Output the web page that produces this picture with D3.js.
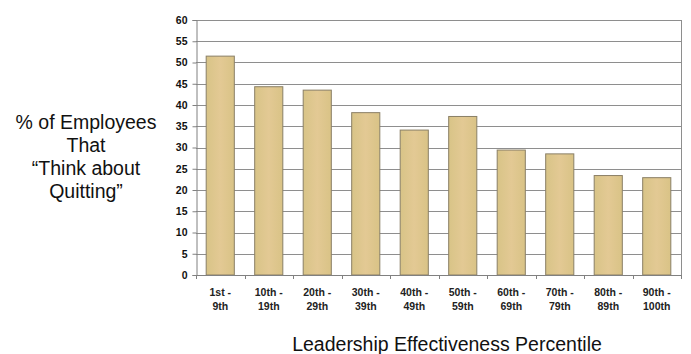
<!DOCTYPE html>
<html>
<head>
<meta charset="utf-8">
<script src="https://cdn.jsdelivr.net/npm/d3@7"></script>
<style>
  html, body { margin: 0; padding: 0; background: #ffffff; }
  svg { display: block; }
</style>
</head>
<body>
<svg id="chart" width="691" height="354"></svg>
<script>
// Percentile bands of leadership effectiveness (two-line labels)
const categories = ["1st - 9th", "10th - 19th", "20th - 29th", "30th - 39th", "40th - 49th",
                    "50th - 59th", "60th - 69th", "70th - 79th", "80th - 89th", "90th - 100th"];
const labelTop = ["1st -", "10th -", "20th -", "30th -", "40th -", "50th -", "60th -", "70th -", "80th -", "90th -"];
const labelBottom = ["9th", "19th", "29th", "39th", "49th", "59th", "69th", "79th", "89th", "100th"];
// Share of employees who think about quitting (%)
const values = [51.5, 44.3, 43.5, 38.2, 34.1, 37.3, 29.4, 28.5, 23.4, 22.9];
const yTicks = [0, 5, 10, 15, 20, 25, 30, 35, 40, 45, 50, 55, 60];
const yTitle = ["% of Employees", "That", "\u201CThink about", "Quitting\u201D"];
const xTitle = "Leadership Effectiveness Percentile";

const svg = d3.select("#chart");
const plot = { left: 196, right: 681, top: 20, bottom: 275 };

const x = d3.scaleBand()
  .domain(categories)
  .range([plot.left, plot.right])
  .paddingInner(0.42)
  .paddingOuter(0.21);

const y = d3.scaleLinear()
  .domain([0, 60])
  .range([plot.bottom, plot.top]);

// Horizontal gridlines
svg.append("g")
  .selectAll("line")
  .data(yTicks.filter(d => d > 0))
  .join("line")
  .attr("x1", plot.left)
  .attr("x2", plot.right)
  .attr("y1", d => Math.round(y(d)) + 0.5)
  .attr("y2", d => Math.round(y(d)) + 0.5)
  .attr("stroke", "#8e8e8e")
  .attr("stroke-width", 1);

// Right border of the plot area
svg.append("line")
  .attr("x1", plot.right + 0.5).attr("x2", plot.right + 0.5)
  .attr("y1", plot.top).attr("y2", plot.bottom)
  .attr("stroke", "#8e8e8e");

// Bar fill gradient
const defs = svg.append("defs");
const grad = defs.append("linearGradient").attr("id", "barFill")
  .attr("x1", "0").attr("x2", "1").attr("y1", "0").attr("y2", "0");
grad.append("stop").attr("offset", "0%").attr("stop-color", "#d8c487");
grad.append("stop").attr("offset", "50%").attr("stop-color", "#e3c994");
grad.append("stop").attr("offset", "100%").attr("stop-color", "#d9c386");

// Bars
svg.append("g")
  .selectAll("rect")
  .data(values)
  .join("rect")
  .attr("x", (d, i) => x(categories[i]))
  .attr("y", d => y(d))
  .attr("width", x.bandwidth())
  .attr("height", d => y(0) - y(d))
  .attr("fill", "url(#barFill)")
  .attr("stroke", "#8a7f66")
  .attr("stroke-width", 1);

// Y axis
const yAxis = svg.append("g")
  .attr("transform", `translate(${plot.left + 0.5},0)`)
  .call(d3.axisLeft(y).tickValues(yTicks).tickSize(4).tickPadding(5));
yAxis.select(".domain").attr("stroke", "#808080");
yAxis.selectAll(".tick line").attr("stroke", "#808080");
yAxis.selectAll(".tick text")
  .attr("font-family", "Liberation Sans, Arial, sans-serif")
  .attr("font-weight", "bold")
  .attr("font-size", 10.5)
  .attr("fill", "#111");

// X axis baseline with ticks between categories
svg.append("line")
  .attr("x1", plot.left).attr("x2", plot.right + 1)
  .attr("y1", plot.bottom + 0.5).attr("y2", plot.bottom + 0.5)
  .attr("stroke", "#808080");
const step = x.step();
const bounds = d3.range(categories.length + 1).map(i => plot.left + i * step);
svg.append("g")
  .selectAll("line")
  .data(bounds)
  .join("line")
  .attr("x1", d => Math.round(d) + 0.5).attr("x2", d => Math.round(d) + 0.5)
  .attr("y1", plot.bottom).attr("y2", plot.bottom + 4)
  .attr("stroke", "#808080");

// Category labels
const xl = svg.append("g")
  .attr("font-family", "Liberation Sans, Arial, sans-serif")
  .attr("font-weight", "bold")
  .attr("font-size", 10.5)
  .attr("fill", "#222")
  .attr("text-anchor", "middle");
xl.selectAll("text.top")
  .data(categories)
  .join("text")
  .attr("class", "top")
  .attr("x", d => x(d) + x.bandwidth() / 2)
  .attr("y", 296)
  .text((d, i) => labelTop[i]);
xl.selectAll("text.bot")
  .data(categories)
  .join("text")
  .attr("class", "bot")
  .attr("x", d => x(d) + x.bandwidth() / 2)
  .attr("y", 310)
  .text((d, i) => labelBottom[i]);

// Y axis title
svg.append("g")
  .attr("font-family", "Liberation Sans, Arial, sans-serif")
  .attr("font-size", 19.5)
  .attr("fill", "#111")
  .attr("text-anchor", "middle")
  .selectAll("text")
  .data(yTitle)
  .join("text")
  .attr("x", 86)
  .attr("y", (d, i) => 129 + i * 23)
  .text(d => d);

// X axis title
svg.append("text")
  .attr("x", 447)
  .attr("y", 351)
  .attr("font-family", "Liberation Sans, Arial, sans-serif")
  .attr("font-size", 19.5)
  .attr("fill", "#111")
  .attr("text-anchor", "middle")
  .text(xTitle);
</script>
</body>
</html>
